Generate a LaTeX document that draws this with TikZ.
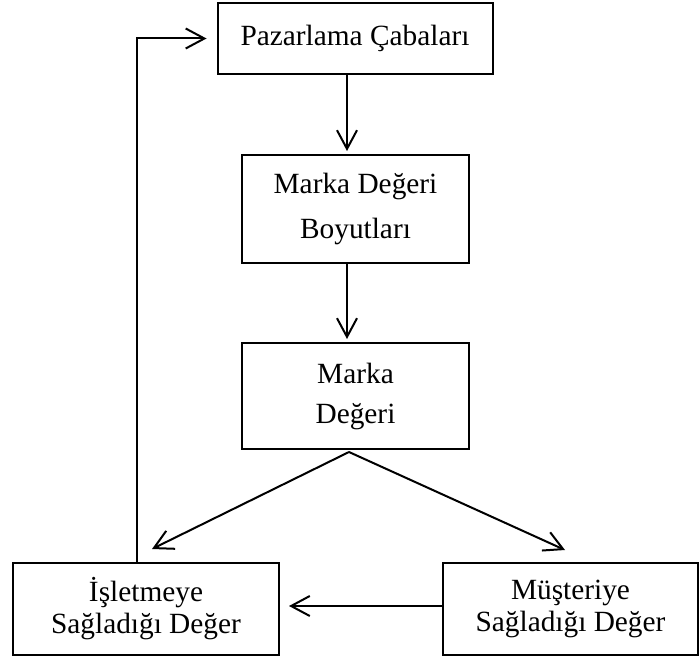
\documentclass[tikz,border=0pt]{standalone}
\usepackage{fontspec}
\setmainfont{Liberation Serif}
\usetikzlibrary{arrows.meta,calc}
\begin{document}
\begin{tikzpicture}[x=0.75pt,y=-0.75pt,
  box/.style={draw,line width=1.5pt,align=center,inner sep=0pt},
  conn/.style={line width=1.5pt,-{Straight Barb[length=14pt,width=15pt,line width=1.5pt]}}]
\useasboundingbox (0,0) rectangle (700,660);
\node[box,font=\fontsize{22pt}{26pt}\selectfont,minimum width=206.25pt,minimum height=53.25pt] (b1) at (355,38.5) {Pazarlama Çabaları};
\node[box,font=\fontsize{22pt}{34pt}\selectfont,minimum width=170.25pt,minimum height=81pt] (b2) at (355.5,209) {Marka Değeri\\Boyutları};
\node[box,font=\fontsize{22pt}{30pt}\selectfont,minimum width=170.25pt,minimum height=79.5pt] (b3) at (355.5,396) {Marka\\Değeri};
\node[box,font=\fontsize{22pt}{24pt}\selectfont,minimum width=199.5pt,minimum height=69pt] (b4) at (146,609) {İşletmeye\\Sağladığı Değer};
\node[box,font=\fontsize{22pt}{24pt}\selectfont,minimum width=191.25pt,minimum height=69pt] (b5) at (570.5,609) {Müşteriye\\Sağladığı Değer};
\draw[conn] ($(b1.south)+(-8,0)$) -- ($(b2.north)+(-8.5,-3)$);
\draw[conn] ($(b2.south)+(-8.5,0)$) -- ($(b3.north)+(-8.5,-3)$);
\draw[conn] ($(b3.south)+(-6.5,2)$) -- ($(b4.north)+(6,-13)$);
\draw[conn] ($(b3.south)+(-6.5,2)$) -- ($(b5.north)+(-5.5,-12)$);
\draw[conn] ($(b5.west)+(0,-3)$) -- ($(b4.east)+(9,-3)$);
\draw[conn] ($(b4.north)+(-9,0)$) |- ($(b1.west)+(-10,0)$);
\end{tikzpicture}
\end{document}
